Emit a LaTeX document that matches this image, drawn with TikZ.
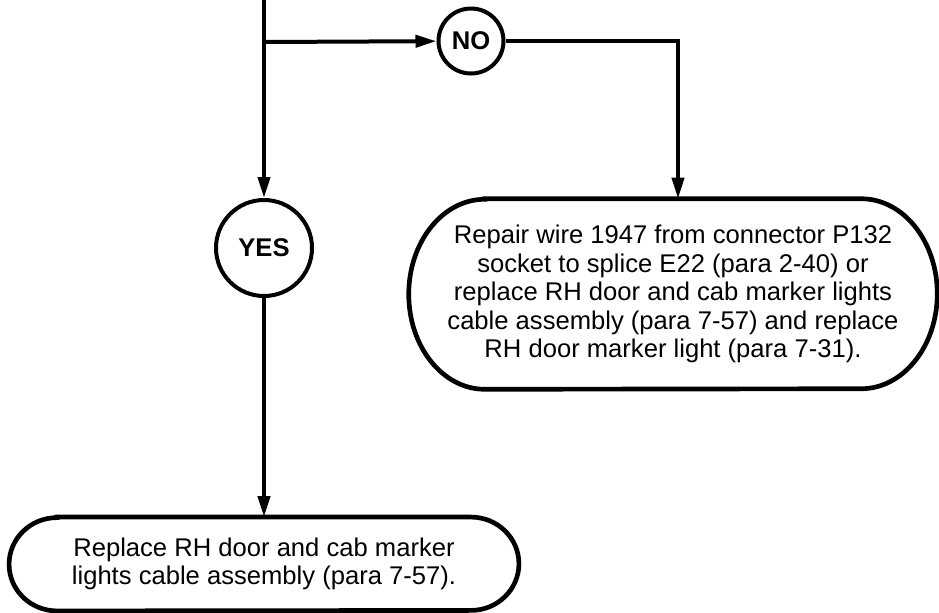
\documentclass[tikz,border=0pt]{standalone}
\usepackage{fontspec}
\setmainfont{Liberation Sans}
\usetikzlibrary{arrows.meta}

% outline with elliptical ends round a node
\newcommand{\pillbox}[3]{%
  \draw[line width=3.5pt]
    ([xshift=#2]#1.north west) -- ([xshift=-#2]#1.north east)
    arc[start angle=90, end angle=-90, x radius=#2, y radius=#3]
    -- ([xshift=#2]#1.south west)
    arc[start angle=270, end angle=90, x radius=#2, y radius=#3]
    -- cycle;}

\begin{document}
\begin{tikzpicture}[
    x=0.75pt, y=-0.75pt,
    every node/.style={font=\fontsize{19.2}{21.4}\selectfont},
    answer/.style={circle, draw, line width=3pt, inner sep=0pt,
      font=\fontsize{19.2}{21.4}\selectfont\bfseries},
    action/.style={align=center, inner sep=0pt},
    flow/.style={line width=3pt, -{Triangle[length=15.75pt, width=9pt]}}
]
  \useasboundingbox (0,0) rectangle (939,612);

  \coordinate (entry) at (264,0);
  \coordinate (split) at (264,42);

  \node[answer, minimum size=48.75pt] (no) at (471,41) {NO};
  \node[answer, minimum size=72pt] (yes) at (264,248) {YES};

  \node[action, minimum width=396pt, minimum height=142.5pt] (repair)
    at (673,294)
    {Repair wire 1947 from connector P132\\
     socket to splice E22 (para 2-40) or\\
     replace RH door and cab marker lights\\
     cable assembly (para 7-57) and replace\\
     RH door marker light (para 7-31).};
  \pillbox{repair}{57pt}{71.25pt}

  \node[action, minimum width=382pt, minimum height=70pt] (replace)
    at (264,564)
    {Replace RH door and cab marker\\
     lights cable assembly (para 7-57).};
  \pillbox{replace}{36pt}{35pt}

  \draw[flow] (entry) -- (yes);
  \draw[flow] (split) -- (no);
  \draw[flow] (no) -| ([xshift=3.75pt]repair.north);
  \draw[flow] (yes) -- (replace);
\end{tikzpicture}
\end{document}
